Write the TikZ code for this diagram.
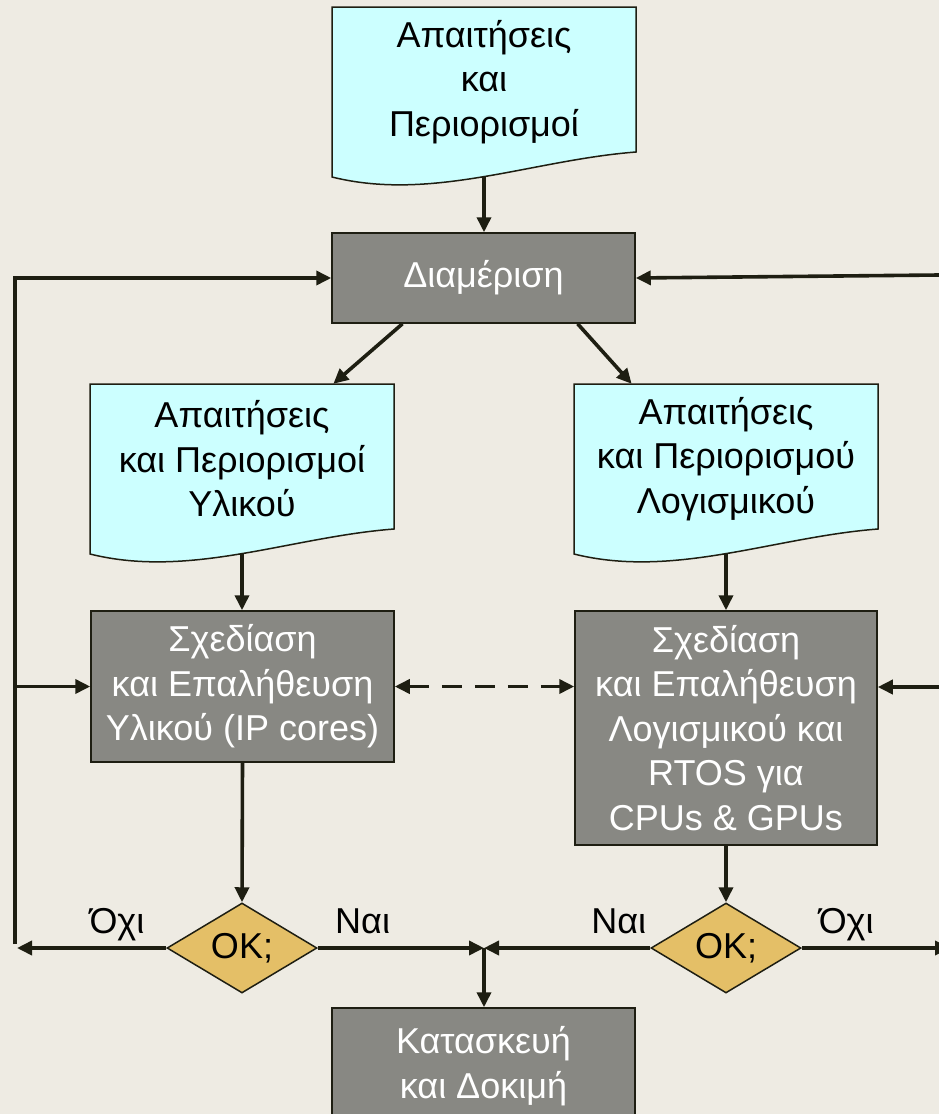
\documentclass[tikz,border=0pt]{standalone}
\usepackage{fontspec}
\setmainfont{Liberation Sans}
\usetikzlibrary{arrows.meta,shapes.geometric,calc}
\definecolor{bg}{HTML}{EEEBE3}
\definecolor{paper}{HTML}{CCFFFF}
\definecolor{boxgray}{HTML}{888883}
\definecolor{okfill}{HTML}{E4BF67}
\definecolor{ink}{HTML}{1E1E12}

\begin{document}
\begin{tikzpicture}[x=1pt,y=-1pt,
  font=\fontsize{36}{44.5}\selectfont,
  % document sheet with a wavy lower edge, 304 wide
  docpic/.pic={\filldraw[fill=paper,draw=ink,line width=1.5pt]
    (0,0) -- (304,0) -- (304,145) .. controls (200,153) and (100,195) .. (0,170) -- cycle;},
  doctext/.style={align=center,text=black,minimum width=304pt,minimum height=150pt,inner sep=0pt},
  procbox/.style={draw=ink,line width=1.5pt,fill=boxgray,text=white,align=center,
    minimum width=303pt,inner sep=0pt},
  decision/.style={diamond,draw=ink,line width=1.5pt,fill=okfill,text=black,
    minimum width=150pt,minimum height=90pt,aspect=1.667,inner sep=0pt},
  arr/.style={draw=ink,line width=3.6pt,-{Triangle[length=15pt,width=14pt]}},
  dasharr/.style={draw=ink,line width=3.6pt,dash pattern=on 20pt off 13pt,
    {Triangle[length=15pt,width=14pt]}-{Triangle[length=15pt,width=14pt]}},
  plain/.style={draw=ink,line width=3.6pt},
  lab/.style={anchor=base,yshift=15pt,text=black,inner sep=0pt}
]
\fill[bg] (0,0) rectangle (939,1114);
\useasboundingbox (0,0) rectangle (939,1114);

% requirement sheets
\pic at (332,7) {docpic};
\node[doctext] (req) at (484,82) {Απαιτήσεις\\και\\Περιορισμοί};
\pic at (90,384) {docpic};
\node[doctext] (hwreq) at (242,459) {Απαιτήσεις\\και Περιορισμοί\\Υλικού};
\pic at (574,384) {docpic};
\node[doctext] (swreq) at (726,459) {Απαιτήσεις\\και Περιορισμού\\Λογισμικού};

% process boxes
\node[procbox,minimum height=90pt] (part) at (483.5,278) {Διαμέριση};
\node[procbox,minimum height=151pt] (hwd) at (242.5,686.5) {Σχεδίαση\\και Επαλήθευση\\Υλικού (IP cores)};
\node[procbox,minimum width=302pt,minimum height=234pt] (swd) at (726,728)
  {Σχεδίαση\\και Επαλήθευση\\Λογισμικού και\\RTOS για\\CPUs \& GPUs};
\node[procbox,minimum height=116pt] (build) at (483.5,1066) {Κατασκευή\\και Δοκιμή};

% decisions
\node[decision] (okh) at (242,948) {OK;};
\node[decision] (oks) at (726,948) {OK;};

% points on the wavy edges and free ends
\coordinate (reqb) at (484,177);
\coordinate (hwreqb) at (242,554);
\coordinate (swreqb) at (726,554);
\coordinate (junc) at (484,948);
\coordinate (lfoot) at (15,944);
\coordinate (lend) at (17,948);
\coordinate (rtop) at (939,275);
\coordinate (rmid) at (939,687);
\coordinate (rout) at (950,948);

% main flow
\draw[arr] (reqb) -- (reqb |- part.north);
\draw[arr] ($(part.south west)!0.234!(part.south east)$) -- ($(hwreq.north west)!0.80!(hwreq.north east)$);
\draw[arr] ($(part.south west)!0.809!(part.south east)$) -- ($(swreq.north west)!0.19!(swreq.north east)$);
\draw[arr] (hwreqb) -- (hwreqb |- hwd.north);
\draw[arr] (swreqb) -- (swreqb |- swd.north);
\draw[dasharr] (hwd.east) -- (hwd.east -| swd.west);
\draw[arr] (hwd.south) -- (okh.north);
\draw[arr] (swd.south) -- (oks.north);

% decision outcomes
\draw[arr] (okh.west) -- node[lab,pos=.33] {Όχι} (lend);
\draw[arr] (okh.east) -- node[lab,pos=.27] {Ναι} (junc);
\draw[arr] (oks.west) -- node[lab,pos=.19] {Ναι} (junc);
\draw[arr] (oks.east) -- node[lab,pos=.30] {Όχι} (rout);
\draw[arr] (junc) -- (junc |- build.north);

% feedback loops
\draw[arr,line join=miter] (lfoot) -- (lfoot |- part.west) -- (part.west);
\draw[arr] (lfoot |- hwd.west) -- (hwd.west);
\draw[arr] (rtop) -- (part.east);
\draw[arr] (rmid) -- (rmid -| swd.east);
\end{tikzpicture}
\end{document}
